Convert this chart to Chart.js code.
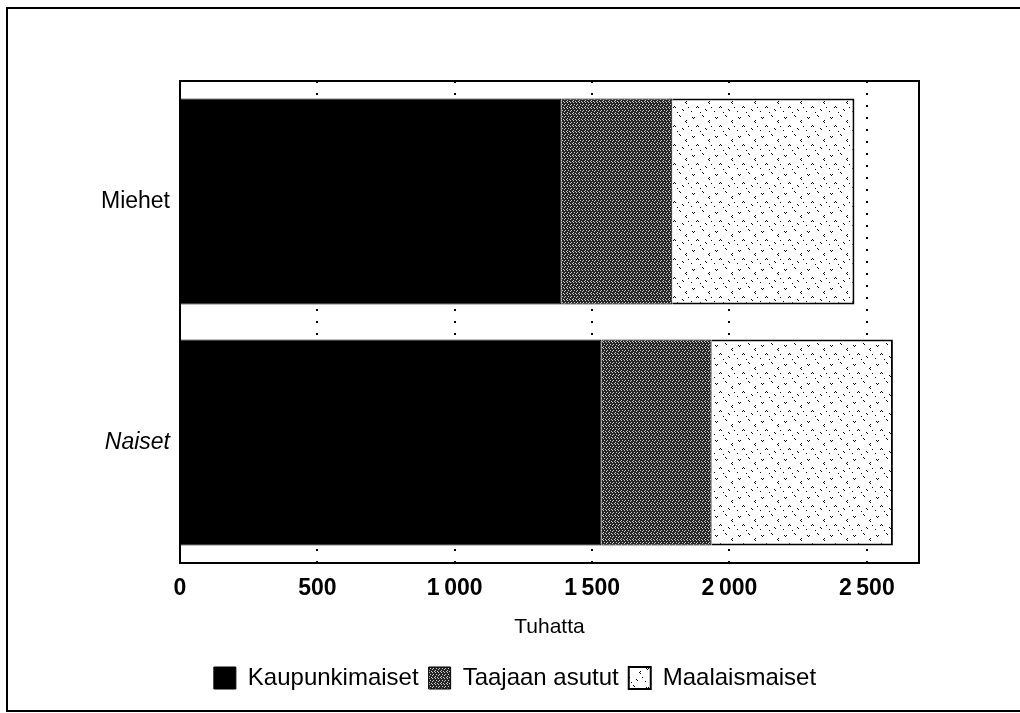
<!DOCTYPE html>
<html>
<head>
<meta charset="utf-8">
<script src="https://cdn.jsdelivr.net/npm/chart.js@4.4.1/dist/chart.umd.min.js"></script>
<style>
  html, body { margin: 0; padding: 0; background: #fff; overflow: hidden; }
  #wrap { position: relative; width: 1020px; height: 713px; }
  #chart { display: block; }
  #frame { position: absolute; left: 6px; top: 7px; width: 1020px; height: 705px;
           border-left: 2px solid #000; border-top: 2px solid #000; border-bottom: 2px solid #000;
           box-sizing: border-box; pointer-events: none; }
</style>
</head>
<body>
<div id="wrap">
  <canvas id="chart" width="1020" height="713"></canvas>
  <div id="frame"></div>
</div>
<script>
/* ========= DATA ========= */
const categories = ["Miehet", "Naiset"];
const kaupunkimaiset = [1388, 1534];
const taajaanAsutut = [404, 401];
const maalaismaiset = [663, 660];
const xTicks = [0, 500, 1000, 1500, 2000, 2500];

/* ========= PATTERNS ========= */
function makePattern(w, h, bg, fg, dots) {
  const c = document.createElement("canvas");
  c.width = w; c.height = h;
  const g = c.getContext("2d");
  g.fillStyle = bg;
  g.fillRect(0, 0, w, h);
  g.fillStyle = fg;
  dots.forEach(([x, y]) => g.fillRect(x, y, 1, 1));
  return g.createPattern(c, "repeat");
}

const grayPattern = makePattern(6, 6, "#262626", "#c8c8c8",
  [[0, 0], [3, 0], [1, 2], [4, 2], [0, 3], [3, 4], [5, 5], [2, 5]]);

const whitePattern = makePattern(23, 19, "#ffffff", "#000000",
  [[2, 3], [3, 4], [4, 3], [12, 1], [13, 2], [18, 7], [19, 8], [19, 6],
   [7, 11], [8, 12], [6, 12], [15, 14], [16, 15], [1, 16], [21, 12], [10, 17]]);

/* ========= FRAME PLUGIN ========= */
const boxPlugin = {
  id: "box",
  afterDatasetsDraw(chart) {
    const a = chart.chartArea, ctx = chart.ctx;
    ctx.save();
    ctx.strokeStyle = "#000";
    ctx.lineWidth = 2;
    ctx.strokeRect(a.left, a.top, a.right - a.left, a.bottom - a.top);
    ctx.restore();
  }
};

const FONT = "'Liberation Sans', Arial";
const fmt = v => v >= 1000 ? Math.floor(v / 1000) + "\u2009" + String(v % 1000).padStart(3, "0") : String(v);

new Chart(document.getElementById("chart"), {
  type: "bar",
  data: {
    labels: categories,
    datasets: [
      { label: "Kaupunkimaiset", data: kaupunkimaiset, backgroundColor: "#000", borderColor: "#000", borderWidth: 1 },
      { label: "Taajaan asutut", data: taajaanAsutut, backgroundColor: grayPattern, borderColor: "#000", borderWidth: 1 },
      { label: "Maalaismaiset", data: maalaismaiset, backgroundColor: whitePattern, borderColor: "#000", borderWidth: 2 }
    ]
  },
  options: {
    indexAxis: "y",
    responsive: false,
    animation: false,
    layout: { padding: { top: 81, right: 0, bottom: 13, left: 10 } },
    datasets: { bar: { categoryPercentage: 1, barPercentage: 0.855 } },
    scales: {
      x: {
        stacked: true,
        min: 0,
        max: 2690,
        afterBuildTicks: s => { s.ticks = xTicks.map(v => ({ value: v })); },
        afterFit: s => { s.height = 93; },
        grid: { color: "#000", lineWidth: 2, drawTicks: false },
        border: { display: false, dash: [2, 10] },
        ticks: {
          color: "#000",
          padding: 12,
          maxRotation: 0,
          font: { family: FONT, size: 23, weight: "bold" },
          callback: v => fmt(v)
        },
        title: {
          display: true,
          text: "Tuhatta",
          color: "#000",
          padding: { top: 10, bottom: 16 },
          font: { family: FONT, size: 21 }
        }
      },
      y: {
        stacked: true,
        afterFit: s => { s.width = 170; },
        grid: { display: false },
        border: { display: false },
        ticks: {
          color: "#000",
          padding: 2,
          font: ctx => ({ family: FONT, size: 23, style: ctx.index === 1 ? "italic" : "normal" })
        }
      },
      yRight: {
        type: "category",
        labels: categories,
        position: "right",
        afterFit: s => { s.width = 101; },
        grid: { display: false },
        border: { display: false },
        ticks: { display: false }
      }
    },
    plugins: {
      legend: {
        position: "bottom",
        labels: {
          color: "#000",
          boxWidth: 22,
          boxHeight: 22,
          padding: 10,
          font: { family: FONT, size: 24 }
        }
      },
      tooltip: { enabled: false }
    }
  },
  plugins: [boxPlugin]
});
</script>
</body>
</html>
